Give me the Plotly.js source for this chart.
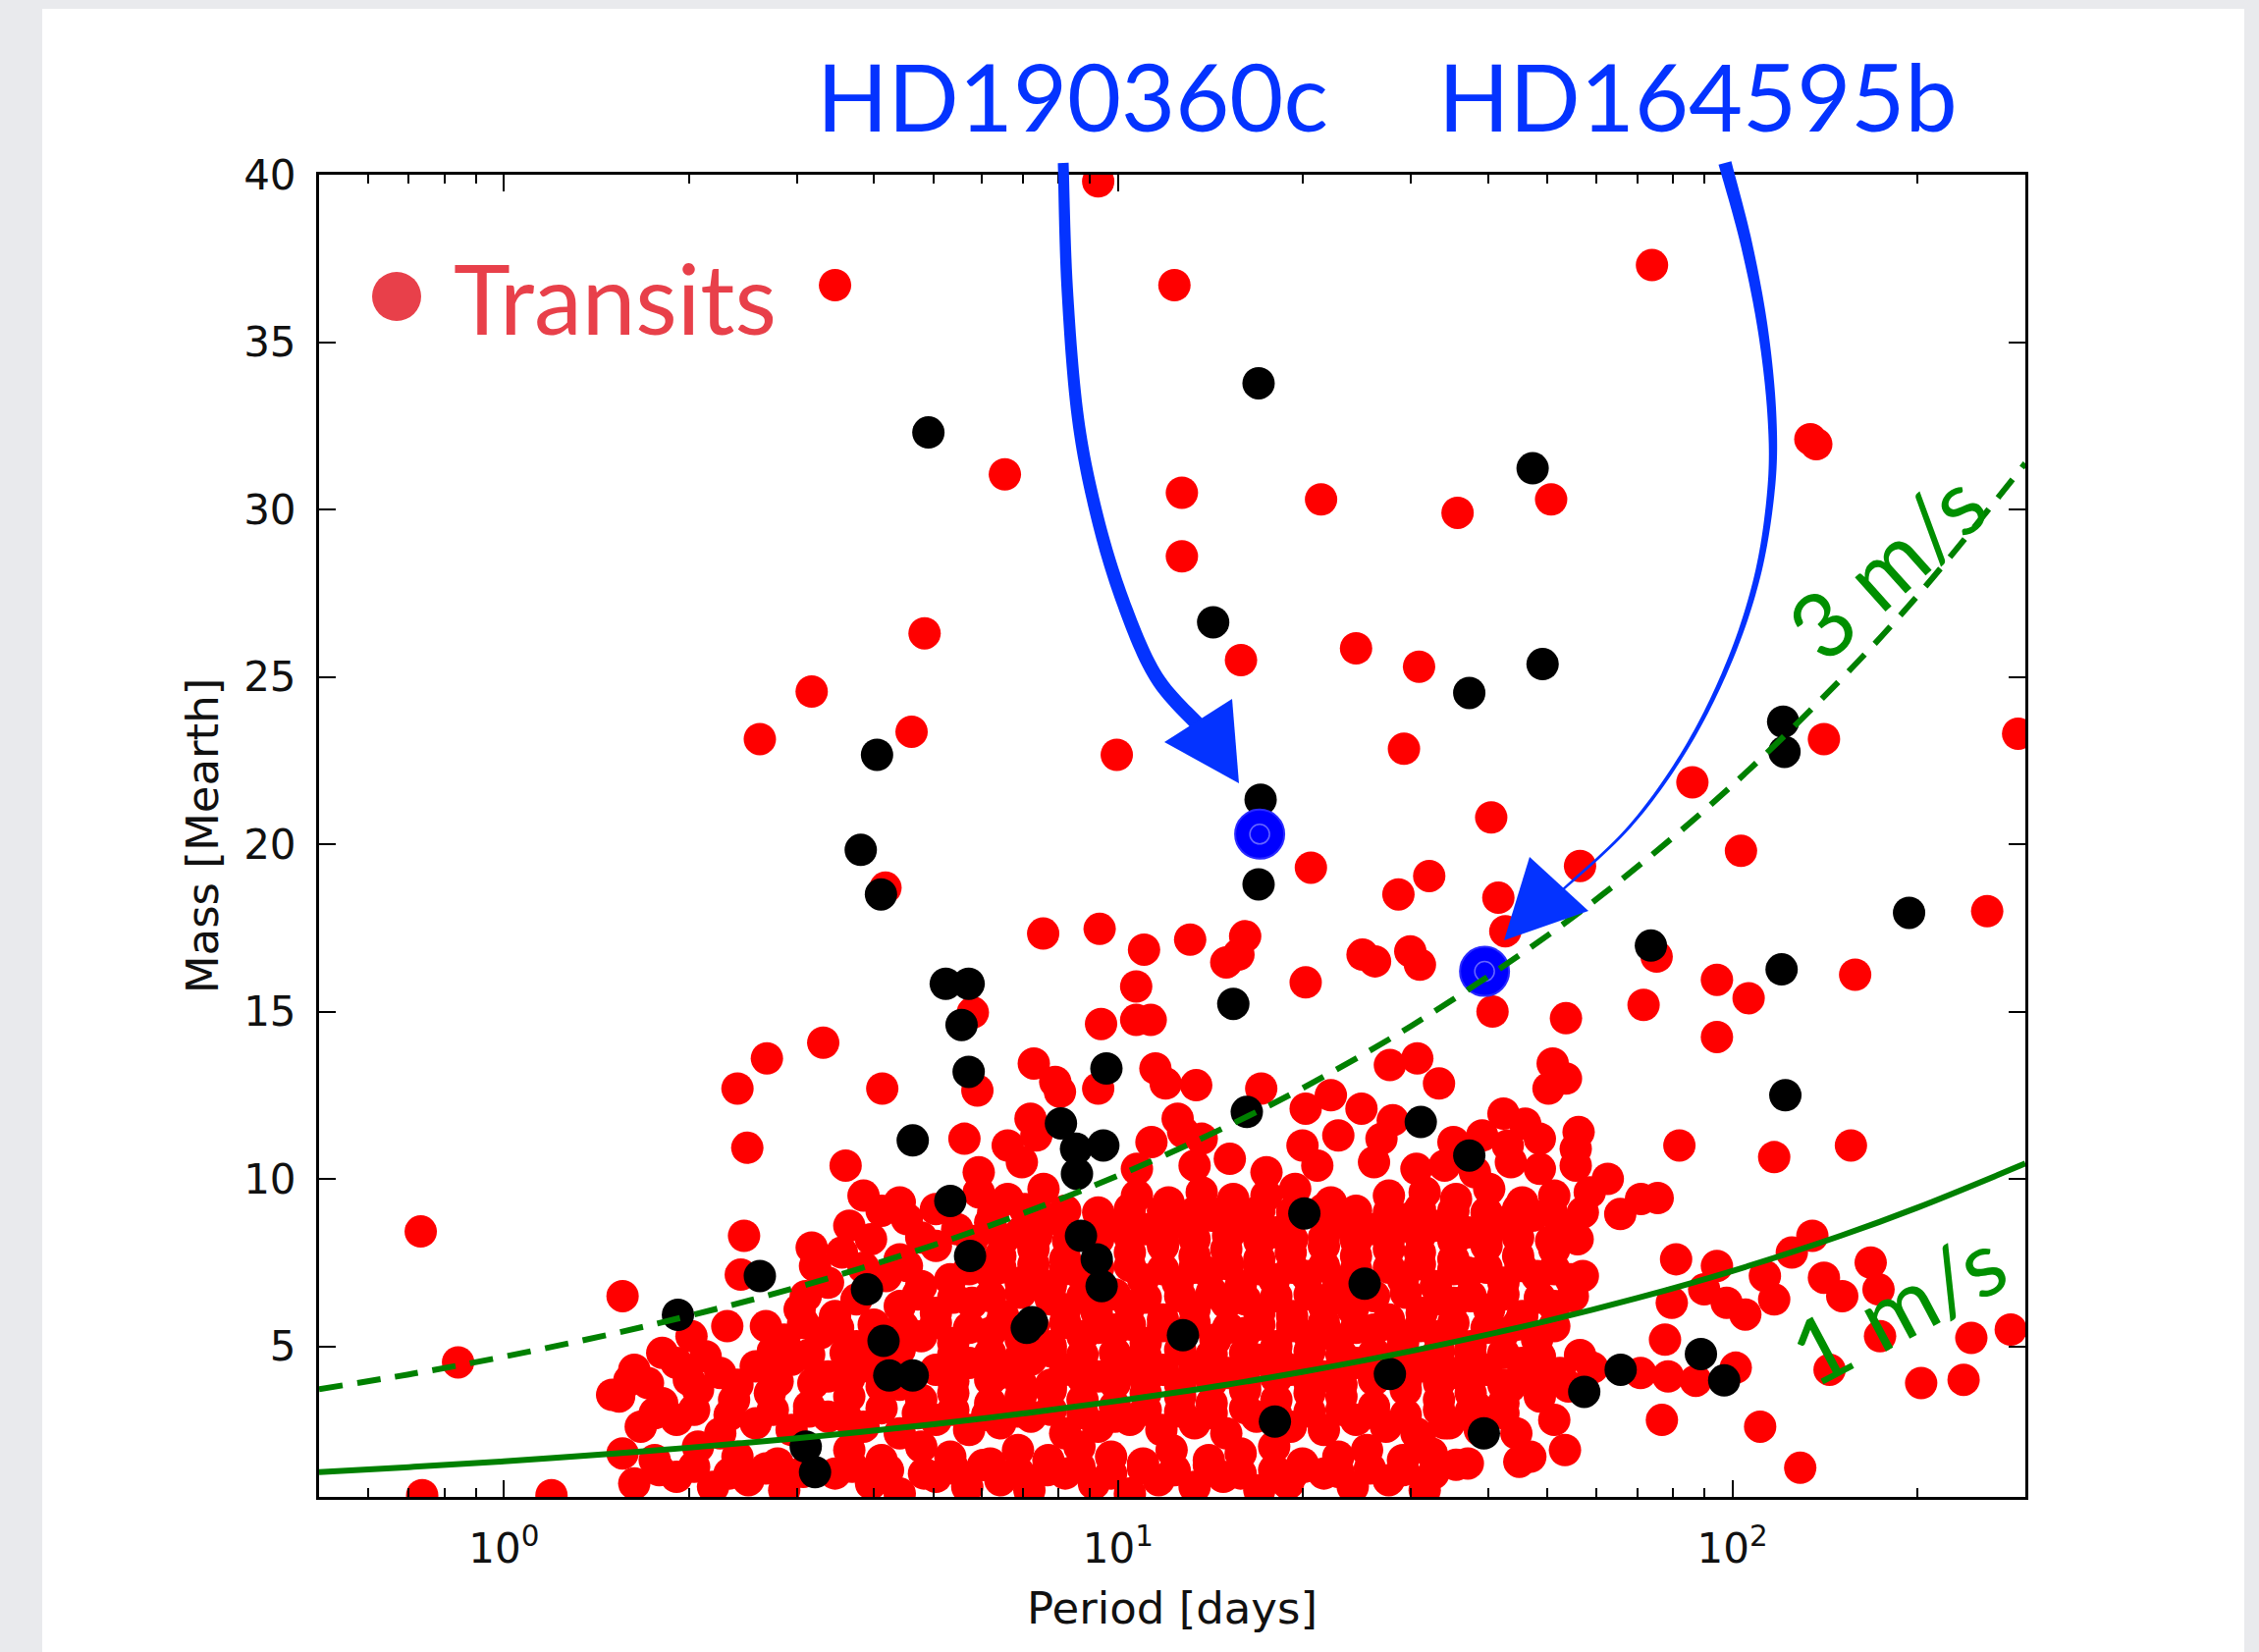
<!DOCTYPE html>
<html><head><meta charset="utf-8">
<script src="https://cdn.plot.ly/plotly-3.0.1.min.js"></script>
<style>html,body{margin:0;padding:0;background:#e9eaed;overflow:hidden;} #chart{width:2301px;height:1683px;}</style>
</head><body><div id="chart"></div>
<script>
// ---------------- DATA ----------------
// Transiting planets (red) — sparse points above the main cloud
const redSparseP = [9.28,3.46,12.35,74.0,6.54,134,137,12.7,12.7,21.4,35.7,50.7,4.84,24.4,15.85,30.9,3.17,4.61,2.61,9.95,29.2,141,292,86.1,40.5,20.6,32.1,56.5,103.3,4.18,28.6,41.6,260,75.3,7.55,9.33,11.02,13.1,16.1,15.0,15.7,25.0,26.2,29.9,31.0,42.7,20.2,10.7,94.4,106.3,158.5,71.7,94.4,40.7,53.6,9.38,10.7,11.3,5.8,3.31,2.68,2.40,4.13,5.9,7.29,7.9,9.28,11.5,11.95,13.4,17.1,22.2,27.7,30.7,33.3,50.2,53.6,51.0,156,117,82,55.6,2.49,2.46,2.43,3.17,3.21,1.56,0.732,0.842,0.736,1.195];
const redSparseM = [39.8,36.7,36.7,37.3,31.05,32.1,31.95,30.5,28.6,30.3,29.9,30.3,26.3,25.85,25.5,25.3,24.56,23.36,23.14,22.67,22.85,23.14,23.3,21.85,20.8,19.3,19.05,19.35,19.8,18.7,18.5,18.4,18.0,16.64,17.33,17.47,16.85,17.15,17.25,16.47,16.7,16.7,16.5,16.8,16.4,17.4,15.87,15.75,15.95,15.4,16.1,15.2,14.24,15.0,14.8,14.63,14.75,14.75,14.97,14.07,13.6,12.7,12.7,12.64,13.45,12.9,12.7,13.3,12.85,12.8,12.7,12.5,13.4,13.6,12.85,12.7,13.0,13.45,11.0,10.65,11.0,10.9,10.93,8.3,7.14,7.95,7.4,6.5,8.43,4.52,0.55,0.55];
// extra scattered red points
const redExtraP = [7.2,8.04,12.5,20.2,24.9,28.0,42.4,46.0,2.02,2.31,1.5,1.6];
const redExtraM = [11.8,12.6,11.8,12.1,12.1,11.75,11.95,11.65,5.3,5.6,3.55,3.98];
// red points on the long-period side of the cloud
const redRightP = [43.5,44.5,46.9,53.4,52.4,70.9,78.6,87.2,101.3,59.2,56.5,31.0,35.5,34.6,38.2,19.2,111,129,144,174,203,238,245,284,45.0,62.7,65.7,71.0,75.6,56.0,57.1,81.0,79.7,94.4,90.0,97.9,77.7,76.8,105,113,117,125,135,141,151,168,173];
const redRightM = [3.8,2.4,1.7,1.9,4.2,4.2,4.1,3.97,4.36,4.36,4.74,2.2,1.46,2.7,3.2,1.17,2.6,1.37,4.3,5.3,3.9,4.0,5.25,5.5,1.55,10.0,8.95,9.4,9.43,8.2,7.1,7.6,6.3,7.4,6.7,6.3,5.2,2.8,5.95,7.1,6.4,7.8,8.3,7.05,6.5,7.5,6.7];
// dense cloud, read band by band
const redCloudP = [
  1.63,1.91,2.19,2.50,2.86,3.46,3.96,4.41,5.05,5.68,6.43,7.17,8.20,9.13,10.45,11.64,13.32,14.83,16.98,18.91,21.63,24.10,27.58,31.56,
  1.56,1.76,2.07,2.40,2.79,3.65,4.12,4.78,5.33,6.19,6.87,7.70,8.65,9.74,10.98,12.22,14.05,15.83,17.95,19.96,22.83,25.43,29.09,32.4,37.1,
  1.67,1.91,2.25,2.57,2.94,3.37,3.85,4.41,5.05,5.72,6.43,7.21,8.20,9.28,10.45,11.76,13.32,15.0,16.8,19.1,21.63,24.4,27.3,30.6,34.0,38.8,51.3,
  1.54,1.81,2.07,2.37,2.71,3.14,3.65,4.12,4.78,5.39,6.19,6.94,7.77,8.75,9.88,11.09,12.62,14.2,16.1,18.1,20.5,23.1,26.1,29.4,33.3,37.5,42.4,48.6,54.1,
  1.63,1.91,2.25,2.57,2.94,3.37,3.85,5.05,5.72,6.43,7.21,8.20,9.28,10.45,11.83,13.32,15.1,16.98,19.1,21.63,24.4,31.2,35.15,39.8,45.5,
  2.86,3.28,3.75,4.78,5.39,6.19,6.94,7.77,8.75,9.88,11.09,14.4,16.1,18.1,20.5,22.83,26.1,29.1,33.3,37.5,42.4,48.1,
  3.03,3.46,4.41,5.05,5.78,6.5,8.20,9.23,10.45,11.83,13.32,15.0,16.98,19.2,21.63,24.1,27.6,31.2,35.15,40.2,45.5,51.3,
  3.37,4.19,4.78,5.33,6.19,6.94,7.77,8.75,10.98,12.5,14.05,15.83,17.95,20.3,22.83,29.09,32.9,37.1,42.4,48.1,54.6,
  3.55,4.41,5.05,6.43,7.28,8.20,10.45,11.83,13.32,15.0,16.98,19.1,21.63,24.4,27.6,31.0,35.15,39.8,44.8,51.3,
  3.65,4.53,5.47,6.19,6.94,7.77,9.88,11.09,12.62,14.2,16.1,18.1,22.83,25.8,29.09,32.7,37.1,41.8,47.3,54.1,
  3.85,4.41,5.93,6.61,7.56,10.73,12.08,13.68,15.4,17.44,19.42,22.2,27.6,31.56,35.5,40.2,45.5,51.3,58.6,
  3.6,5.93,6.97,10.73,13.32,15.2,17.44,21.1,26.1,30.6,34.0,38.1,43.6,48.6,55.6,
  5.62,6.61,7.36,11.33,12.76,13.68,19.96,22.83,26.84,35.15,39.15,43.1,48.6,56.2
];
const redCloudM = [
  0.9,1.1,0.8,1.0,0.7,1.2,0.9,0.6,1.1,0.8,1.0,0.7,1.2,0.9,0.6,1.0,0.8,1.1,0.7,0.9,1.2,0.8,1.0,0.7,
  1.8,1.6,2.0,1.7,1.5,1.9,1.6,2.0,1.7,1.5,1.9,1.6,2.0,1.7,1.5,1.9,1.6,1.8,2.0,1.5,1.7,1.9,1.6,1.8,1.5,
  2.6,2.8,2.4,2.7,2.5,2.9,2.6,2.4,2.8,2.5,2.7,2.9,2.4,2.6,2.8,2.5,2.7,2.4,2.9,2.6,2.5,2.8,2.6,2.4,2.7,2.5,2.8,
  3.5,3.3,3.7,3.4,3.6,3.2,3.5,3.8,3.4,3.6,3.3,3.5,3.7,3.4,3.2,3.6,3.5,3.3,3.7,3.4,3.6,3.5,3.2,3.7,3.4,3.6,3.3,3.5,3.8,
  4.3,4.5,4.2,4.4,4.6,4.1,4.4,4.3,4.5,4.2,4.6,4.3,4.1,4.5,4.3,4.4,4.2,4.6,4.3,4.1,4.5,4.4,4.2,4.3,4.5,
  5.2,5.4,5.0,5.3,5.1,5.4,5.2,5.0,5.3,5.5,5.1,5.2,5.4,5.0,5.3,5.2,5.5,5.1,5.3,5.0,5.4,5.2,
  6.1,5.9,6.2,6.0,6.3,5.9,6.1,6.0,6.2,5.8,6.1,6.3,6.0,5.9,6.2,6.1,5.8,6.0,6.3,6.1,5.9,6.2,
  6.9,7.1,6.8,7.0,7.2,6.9,6.8,7.1,7.0,6.9,7.2,6.8,7.0,7.1,6.9,7.0,6.8,7.2,6.9,7.1,7.0,
  7.8,7.6,8.0,7.7,7.9,7.6,7.8,8.0,7.7,7.9,7.6,7.8,8.0,7.7,7.9,7.8,7.6,8.0,7.7,7.9,
  8.6,8.8,8.5,8.7,8.4,8.8,8.6,8.5,8.7,8.9,8.6,8.4,8.7,8.5,8.8,8.6,8.4,8.7,8.9,8.6,
  9.5,9.3,9.6,9.4,9.7,9.5,9.3,9.6,9.4,9.5,9.7,9.3,9.5,9.6,9.4,9.7,9.3,9.5,9.6,
  10.4,10.2,10.5,10.3,10.4,10.6,10.2,10.4,10.5,10.3,10.4,10.2,10.5,10.3,10.4,
  11.2,11.0,11.3,11.1,11.4,11.2,11.0,11.3,11.2,11.1,11.3,11.0,11.2,11.4
];
// dense cloud, in-between bands (the core is solid red)
const redCoreP = [
  1.79,2.04,2.33,2.67,3.07,3.69,4.22,4.83,5.39,6.03,6.87,7.67,8.65,9.74,10.98,12.36,14.05,15.83,17.95,20.1,22.83,25.7,29.1,32.6,
  1.76,2.04,2.33,2.74,3.14,3.6,4.12,4.72,5.39,6.12,6.87,7.77,8.75,9.88,11.09,12.62,14.2,16.1,18.1,20.5,23.1,26.1,29.4,33.3,37.5,42.4,
  1.716,2.0,2.40,2.79,3.19,3.65,4.41,5.39,6.19,6.94,7.77,8.75,9.88,11.09,12.62,14.2,16.1,18.1,20.5,23.1,26.1,29.4,33.3,37.5,42.4,48.1,
  1.81,2.13,2.74,3.14,3.6,4.12,4.41,5.39,6.19,6.94,7.77,8.75,9.88,11.09,12.62,14.2,16.1,18.1,20.5,23.1,26.1,29.4,33.3,37.5,42.4,48.6,
  2.67,3.07,3.5,4.0,4.46,5.05,5.72,6.43,7.28,8.2,9.28,10.45,11.83,13.32,15.1,16.98,19.2,21.63,24.4,27.6,31.0,35.15,39.8,44.8,51.3,
  3.1,3.75,4.72,5.39,6.19,6.94,7.77,8.75,9.88,11.09,12.62,14.2,16.1,18.1,20.5,23.1,26.1,29.4,33.3,37.5,42.4,48.6,55.0,
  3.85,4.53,5.72,6.43,7.28,8.2,9.28,10.45,11.83,13.32,15.1,16.98,19.2,21.63,24.4,27.6,31.0,35.15,39.8,45.2,51.3,
  3.96,4.78,5.78,6.5,7.36,8.29,9.28,10.45,11.83,13.32,15.1,16.98,19.2,21.63,24.4,27.6,31.0,35.15,39.8,44.8,50.7,
  4.12,5.05,6.26,7.05,8.2,9.28,10.45,11.83,13.32,15.1,16.98,19.2,21.63,24.4,27.6,31.0,35.15,39.8,44.8,50.7,57.1
];
const redCoreM = [
  1.3,1.4,1.2,1.35,1.25,1.4,1.3,1.2,1.35,1.45,1.25,1.3,1.4,1.2,1.35,1.3,1.45,1.2,1.3,1.4,1.25,1.35,1.3,1.2,
  3.0,3.1,2.95,3.1,3.05,2.9,3.15,3.0,3.1,2.95,3.05,3.1,3.0,2.9,3.1,3.05,3.0,3.15,2.95,3.05,3.1,3.0,2.95,3.1,3.05,3.0,
  3.9,4.0,3.85,3.95,3.9,4.05,3.85,3.95,4.0,3.9,3.85,4.05,3.9,4.0,3.85,3.95,3.9,4.05,3.9,3.85,4.0,3.95,3.9,4.05,3.85,3.95,
  4.8,4.7,4.85,4.75,4.8,4.7,4.9,4.75,4.8,4.7,4.85,4.75,4.8,4.7,4.9,4.75,4.8,4.7,4.85,4.75,4.8,4.7,4.85,4.75,4.8,4.7,
  5.6,5.7,5.55,5.65,5.6,5.7,5.55,5.65,5.6,5.7,5.55,5.65,5.6,5.7,5.55,5.65,5.6,5.7,5.55,5.65,5.6,5.7,5.55,5.65,5.6,
  6.5,6.4,6.55,6.45,6.5,6.6,6.4,6.5,6.55,6.45,6.5,6.6,6.4,6.5,6.55,6.45,6.5,6.6,6.4,6.5,6.55,6.45,6.5,
  7.35,7.4,7.3,7.35,7.45,7.3,7.35,7.4,7.3,7.35,7.45,7.3,7.35,7.4,7.3,7.35,7.45,7.3,7.35,7.4,7.3,
  8.2,8.25,8.15,8.2,8.3,8.15,8.2,8.25,8.15,8.2,8.3,8.15,8.2,8.25,8.15,8.2,8.3,8.15,8.2,8.25,8.15,
  9.05,9.1,9.0,9.1,9.05,9.0,9.1,9.05,9.0,9.1,9.05,9.0,9.1,9.05,9.0,9.1,9.05,9.0,9.1,9.05,9.0
];
// Radial-velocity planets (black)
const rvP = [16.93,4.91,47.3,14.28,49.1,37.3,121,121.6,4.05,17.06,3.81,4.11,16.93,194,73.7,5.24,5.71,15.4,5.56,120.3,5.71,9.57,16.2,122,31.1,8.07,8.54,9.46,4.63,37.3,5.33,8.57,20.1,8.70,5.74,9.23,2.61,9.4,1.92,3.90,25.2,7.24,7.1,4.15,12.75,4.24,4.63,27.7,88.9,65.8,57.4,97.0,18.0,39.4,3.10,3.21];
const rvM = [33.77,32.3,31.23,26.63,25.38,24.52,23.66,22.76,22.67,21.33,19.83,18.5,18.8,17.95,16.97,15.83,15.83,15.23,14.6,16.26,13.2,13.3,12.0,12.5,11.7,11.66,10.9,11.0,11.15,10.7,9.34,10.15,8.97,8.3,7.7,7.6,7.1,6.8,5.94,6.7,6.87,5.72,5.55,5.16,5.33,4.13,4.13,4.17,4.77,4.3,3.64,3.98,2.75,2.4,2.0,1.24];
// Highlighted planets (blue)
const hlNames = ["HD190360c","HD164595b"];
const hlP = [17.0, 39.5];
const hlM = [20.3, 16.2];
// RV detection limits
const limP  = [0.5,0.7,1,1.5,2,3,5,7,10,15,20,30,50,70,100,150,200,300];
const lim1M = [1.24,1.39,1.56,1.79,1.97,2.25,2.67,2.99,3.37,3.85,4.24,4.86,5.76,6.44,7.25,8.30,9.14,10.46];
const lim3M = [3.72,4.16,4.69,5.37,5.91,6.76,8.02,8.97,10.10,11.56,12.72,14.57,17.27,19.32,21.76,24.91,27.41,31.38];
const xTickVals = [1,10,100];
const xTickText = ["10<sup>0</sup>","10<sup>1</sup>","10<sup>2</sup>"];
const xMinorVals = [0.5,0.6,0.7,0.8,0.9,2,3,4,5,6,7,8,9,20,30,40,50,60,70,80,90,200,300];
const yTickVals = [5,10,15,20,25,30,35,40];

// ---------------- LAYOUT HELPERS ----------------
const W = 2301, H = 1683, L = 325, R = 2063, T = 178, B = 1525;
const px = X => (X - L) / (R - L);
const py = Y => (B - Y) / (B - T);

const transitP = [].concat(redCloudP, redCoreP, redRightP, redExtraP, redSparseP);
const transitM = [].concat(redCloudM, redCoreM, redRightM, redExtraM, redSparseM);

function spline(pts, n) {
  const out = [];
  for (let i = 0; i < pts.length - 1; i++) {
    const p0 = pts[Math.max(i - 1, 0)], p1 = pts[i], p2 = pts[i + 1], p3 = pts[Math.min(i + 2, pts.length - 1)];
    for (let k = 0; k < n; k++) {
      const t = k / n, t2 = t * t, t3 = t2 * t;
      const f = (a, b, c, d) => 0.5 * ((2 * b) + (-a + c) * t + (2 * a - 5 * b + 4 * c - d) * t2 + (-a + 3 * b - 3 * c + d) * t3);
      out.push([f(p0[0], p1[0], p2[0], p3[0]), f(p0[1], p1[1], p2[1], p3[1])]);
    }
  }
  out.push(pts[pts.length - 1]);
  return out;
}
function ribbon(pts, wFn) {
  const s = spline(pts, 14);
  const left = [], right = [];
  for (let i = 0; i < s.length; i++) {
    const a = s[Math.max(i - 1, 0)], b = s[Math.min(i + 1, s.length - 1)];
    let tx = b[0] - a[0], ty = b[1] - a[1];
    const len = Math.hypot(tx, ty) || 1; tx /= len; ty /= len;
    const w = wFn(i / (s.length - 1)) / 2;
    left.push([s[i][0] - ty * w, s[i][1] + tx * w]);
    right.push([s[i][0] + ty * w, s[i][1] - tx * w]);
  }
  const all = left.concat(right.reverse());
  return 'M ' + all.map(p => px(p[0]).toFixed(5) + ',' + py(p[1]).toFixed(5)).join(' L ') + ' Z';
}
function tri(a, b, c) {
  return 'M ' + [a, b, c].map(p => px(p[0]).toFixed(5) + ',' + py(p[1]).toFixed(5)).join(' L ') + ' Z';
}
const BLUE = '#0433ff';
const arrow1 = [[1083,166],[1087,293],[1098,426],[1118,528],[1145,616],[1178,690],[1222,740]];
const arrow2 = [[1757,166],[1779,249],[1796,338],[1805,426],[1804,499],[1790,587],[1761,675],[1717,763],[1660,842],[1590,908]];

const shapes = [
  {type:'rect', xref:'paper', yref:'paper', x0:px(43), x1:px(2286), y0:py(1700), y1:py(9), fillcolor:'#ffffff', line:{width:0}, layer:'below'},
  {type:'circle', xref:'paper', yref:'paper', x0:px(379), x1:px(429), y0:py(327), y1:py(277), fillcolor:'#e8404a', line:{width:0}},
  {type:'path', xref:'paper', yref:'paper', path:ribbon(arrow1, t => 11 + 4 * t), fillcolor:BLUE, line:{width:0}},
  {type:'path', xref:'paper', yref:'paper', path:tri([1262,798],[1186,756],[1255,712]), fillcolor:BLUE, line:{width:0}},
  {type:'path', xref:'paper', yref:'paper', path:ribbon(arrow2, t => 2.5 + 11 * Math.pow(1 - t, 1.3)), fillcolor:BLUE, line:{width:0}},
  {type:'path', xref:'paper', yref:'paper', path:tri([1532,958],[1558,873],[1618,928]), fillcolor:BLUE, line:{width:0}}
];

const KFONT = 'Lato, "Open Sans", sans-serif';
const annotations = [
  {xref:'paper', yref:'paper', x:px(1092), y:py(97), text:hlNames[0], showarrow:false, xanchor:'center', yanchor:'middle', font:{family:KFONT, size:95, color:BLUE}},
  {xref:'paper', yref:'paper', x:px(1729), y:py(97), text:hlNames[1], showarrow:false, xanchor:'center', yanchor:'middle', font:{family:KFONT, size:95, color:BLUE}},
  {xref:'paper', yref:'paper', x:px(460), y:py(303), text:'Transits', showarrow:false, xanchor:'left', yanchor:'middle', font:{family:KFONT, size:98, color:'#e8404a'}},
  {xref:'paper', yref:'paper', x:px(1920), y:py(575), text:'3 m/s', showarrow:false, textangle:-42, xanchor:'center', yanchor:'middle', font:{family:KFONT, size:92, color:'#008f00'}},
  {xref:'paper', yref:'paper', x:px(1932), y:py(1330), text:'1 m/s', showarrow:false, textangle:-28, xanchor:'center', yanchor:'middle', font:{family:KFONT, size:92, color:'#008f00'}}
];

const traces = [
  {type:'scatter', mode:'markers', name:'Transits', x:transitP, y:transitM, marker:{color:'#ff0000', size:33, line:{width:0}}},
  {type:'scatter', mode:'markers', name:'RV', x:rvP, y:rvM, marker:{color:'#000000', size:33, line:{width:0}}},
  {type:'scatter', mode:'markers', name:'highlight', x:hlP, y:hlM, text:hlNames, marker:{color:'#0000ff', size:50, line:{width:2, color:'#2a2aff'}}},
  {type:'scatter', mode:'markers', name:'highlight ring', x:hlP, y:hlM, marker:{symbol:'circle-open', color:'rgba(120,120,255,0.85)', size:20, line:{width:1.5}}, hoverinfo:'skip'},
  {type:'scatter', mode:'lines', name:'3 m/s', x:limP, y:lim3M, line:{color:'#008000', width:6, dash:'24px,15px', shape:'spline'}},
  {type:'scatter', mode:'lines', name:'1 m/s', x:limP, y:lim1M, line:{color:'#008000', width:6, shape:'spline'}}
];

const axisFont = {family:'"DejaVu Sans", sans-serif', size:42, color:'#111111'};
const layout = {
  width:W, height:H,
  margin:{l:L, r:W - R, t:T, b:H - B, pad:0},
  paper_bgcolor:'#e9eaed', plot_bgcolor:'#ffffff',
  showlegend:false,
  font:{family:'"DejaVu Sans", sans-serif', color:'#111111'},
  xaxis:{
    type:'log', range:[Math.log10(0.5), Math.log10(300)],
    tickmode:'array', tickvals:xTickVals, ticktext:xTickText,
    ticks:'inside', ticklen:17, tickwidth:2, tickcolor:'#000',
    minor:{tickmode:'array', tickvals:xMinorVals, ticks:'inside', ticklen:9, tickwidth:2, tickcolor:'#000'},
    showline:true, linewidth:3, linecolor:'#000', mirror:'allticks',
    showgrid:false, zeroline:false, tickfont:axisFont, ticklabelstandoff:14,
    title:{text:'Period [days]', font:{family:'"DejaVu Sans", sans-serif', size:45, color:'#111111'}, standoff:22}
  },
  yaxis:{
    range:[0.5, 40], tickmode:'array', tickvals:yTickVals,
    ticks:'inside', ticklen:17, tickwidth:2, tickcolor:'#000',
    showline:true, linewidth:3, linecolor:'#000', mirror:'allticks',
    showgrid:false, zeroline:false, tickfont:axisFont, ticklabelstandoff:12,
    title:{text:'Mass [Mearth]', font:{family:'"DejaVu Sans", sans-serif', size:45, color:'#111111'}, standoff:12}
  },
  shapes:shapes,
  annotations:annotations
};

Plotly.newPlot('chart', traces, layout, {displayModeBar:false, staticPlot:true});
</script></body></html>
